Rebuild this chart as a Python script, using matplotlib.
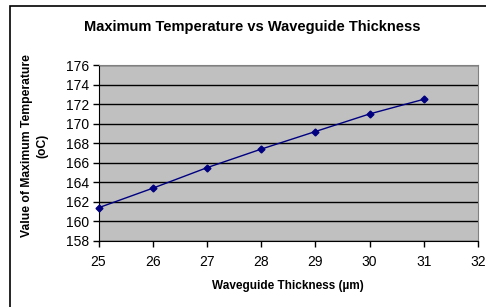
import matplotlib.pyplot as plt
from matplotlib.patches import Rectangle

# data
thickness = [25, 26, 27, 28, 29, 30, 31]
max_temp = [161.4, 163.4, 165.5, 167.4, 169.2, 171.0, 172.5]
y_ticks = list(range(158, 177, 2))
x_ticks = list(range(25, 33))

plt.rcParams['font.family'] = ['Liberation Sans', 'DejaVu Sans']

fig = plt.figure(figsize=(4.86, 3.07), dpi=100)
ax = fig.add_axes([0.2027, 0.215, 0.7808, 0.573])

# outer chart frame (cut off on right/bottom like the original)
fig.patches.append(Rectangle((10 / 486, -0.05), 1.2, 1 - 6 / 307 + 0.05,
                             transform=fig.transFigure, fill=False,
                             edgecolor='black', linewidth=1.2))

ax.set_facecolor('#c0c0c0')
ax.plot(thickness, max_temp, color='#000080', linewidth=1,
        marker='D', markersize=3.5, markerfacecolor='#000080',
        markeredgecolor='#000080', clip_on=False, zorder=3)

ax.set_xlim(25, 32)
ax.set_ylim(158, 176)
ax.set_xticks(x_ticks)
ax.set_yticks(y_ticks)
ax.yaxis.grid(True, color='black', linewidth=1)
ax.set_axisbelow(True)

for side in ['top', 'right']:
    ax.spines[side].set_color('#808080')
for side in ['left', 'bottom']:
    ax.spines[side].set_color('black')

ax.tick_params(axis='both', direction='out', length=4, width=1,
               labelsize=10, pad=3)
ax.tick_params(axis='x', pad=6)

fig.text(252 / 486, 1 - 27 / 307, 'Maximum Temperature vs Waveguide Thickness',
         fontsize=10.5, fontweight='bold', ha='center', va='center')
ax.set_xlabel('Waveguide Thickness (\u00b5m)', fontsize=8.5,
              fontweight='bold', labelpad=8)
ax.set_ylabel('Value of Maximum Temperature\n(oC)', fontsize=8.7,
              fontweight='bold', va='center', linespacing=1.3)
ax.yaxis.set_label_coords(-0.168, 0.54)

plt.savefig('out.png', dpi=100)
